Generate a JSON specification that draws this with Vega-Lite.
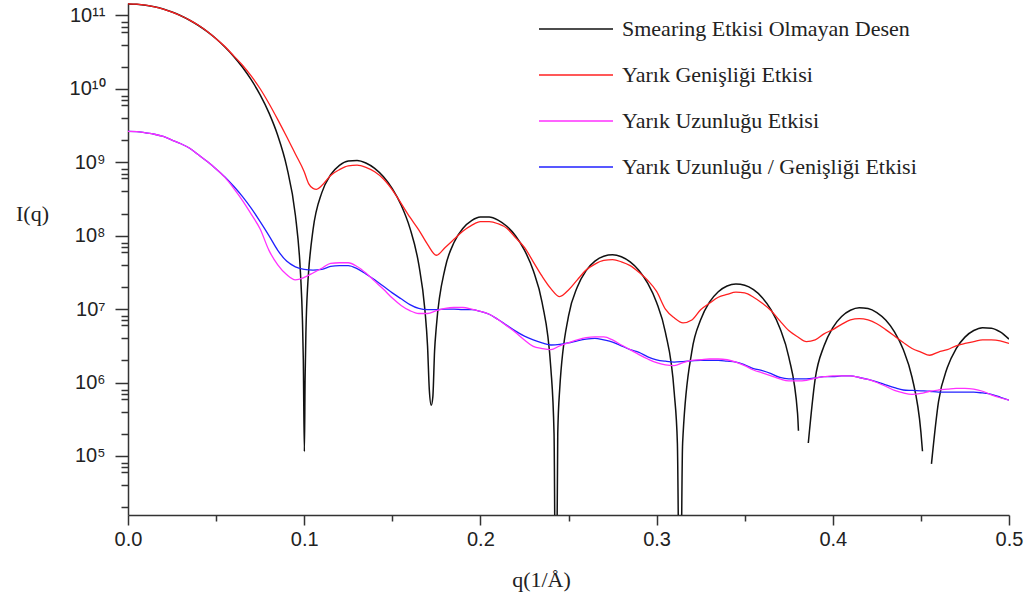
{
  "$schema": "https://vega.github.io/schema/vega-lite/v6.json",
  "autosize": "none",
  "width": 881,
  "height": 512,
  "padding": {"left": 128, "top": 3, "right": 21, "bottom": 85},
  "background": "white",
  "config": {
    "view": {"stroke": null},
    "axis": {
      "domainColor": "#333",
      "domainWidth": 1.5,
      "tickColor": "#333",
      "tickWidth": 1.5,
      "grid": false,
      "labelFont": "Liberation Sans",
      "labelFontSize": 20,
      "labelColor": "#222",
      "titleFont": "Liberation Serif",
      "titleFontSize": 22,
      "titleFontWeight": "normal",
      "titleColor": "#222"
    }
  },
  "datasets": {
    "black": [
      {"q":0,"I":1.43e11},{"q":0.005,"I":1.416e11},{"q":0.01,"I":1.373e11},{"q":0.015,"I":1.305e11},{"q":0.02,"I":1.215e11},
      {"q":0.025,"I":1.106e11},{"q":0.03,"I":9.85e10},{"q":0.035,"I":8.56e10},{"q":0.04,"I":7.26e10},{"q":0.045,"I":5.99e10},
      {"q":0.05,"I":4.79e10},{"q":0.055,"I":3.70e10},{"q":0.06,"I":2.757e10},{"q":0.065,"I":1.96e10},{"q":0.07,"I":1.317e10},
      {"q":0.075,"I":8.25e9},{"q":0.08,"I":4.69e9},{"q":0.085,"I":2.309e9},{"q":0.09,"I":8.85e8},{"q":0.095,"I":1.894e8},
      {"q":0.0975,"I":4.46e7},{"q":0.098,"I":2.76e7},{"q":0.099,"I":7.07e6},{"q":0.0995,"I":2.03e6},{"q":0.1001,"I":1.15e5},
      {"q":0.1005,"I":1.07e6},{"q":0.101,"I":5.13e6},{"q":0.102,"I":2.13e7},{"q":0.1025,"I":3.23e7},{"q":0.105,"I":1.195e8},
      {"q":0.11,"I":3.85e8},{"q":0.115,"I":6.74e8},{"q":0.12,"I":9.06e8},{"q":0.125,"I":1.037e9},{"q":0.13,"I":1.056e9},
      {"q":0.135,"I":9.76e8},{"q":0.14,"I":8.24e8},{"q":0.145,"I":6.33e8},{"q":0.15,"I":4.36e8},{"q":0.155,"I":2.61e8},
      {"q":0.16,"I":1.266e8},{"q":0.165,"I":4.08e7},{"q":0.1685,"I":9.76e6},{"q":0.17,"I":3.15e6},{"q":0.171,"I":8.05e5},
      {"q":0.1721,"I":4.9e5},{"q":0.173,"I":6.34e5},{"q":0.174,"I":2.7e6},{"q":0.175,"I":5.78e6},{"q":0.18,"I":3.62e7},
      {"q":0.185,"I":8.05e7},{"q":0.19,"I":1.252e8},{"q":0.195,"I":1.601e8},{"q":0.2,"I":1.788e8},{"q":0.205,"I":1.792e8},
      {"q":0.21,"I":1.627e8},{"q":0.215,"I":1.339e8},{"q":0.22,"I":9.88e7},{"q":0.225,"I":6.35e7},{"q":0.23,"I":3.35e7},
      {"q":0.235,"I":1.229e7},{"q":0.24,"I":1.542e6},{"q":0.2418,"I":2.0e5},{"q":0.24285,"I":100},{"q":0.2439,"I":2.0e5},
      {"q":0.245,"I":8.07e5},{"q":0.25,"I":8.0e6},{"q":0.255,"I":2.0e7},{"q":0.26,"I":3.34e7},{"q":0.265,"I":4.5e7},
      {"q":0.27,"I":5.25e7},{"q":0.275,"I":5.47e7},{"q":0.28,"I":5.15e7},{"q":0.285,"I":4.38e7},{"q":0.29,"I":3.35e7},
      {"q":0.295,"I":2.23e7},{"q":0.3,"I":1.227e7},{"q":0.305,"I":4.81e6},{"q":0.31,"I":7.3e5},{"q":0.3118,"I":1.48e5},
      {"q":0.31328,"I":100},{"q":0.3147,"I":1.33e5},{"q":0.315,"I":1.91e5},{"q":0.32,"I":2.66e6},{"q":0.325,"I":7.13e6},
      {"q":0.33,"I":1.239e7},{"q":0.335,"I":1.72e7},{"q":0.34,"I":2.06e7},{"q":0.345,"I":2.19e7},{"q":0.35,"I":2.11e7},
      {"q":0.355,"I":1.833e7},{"q":0.36,"I":1.429e7},{"q":0.365,"I":9.74e6},{"q":0.37,"I":5.49e6},{"q":0.375,"I":2.23e6},
      {"q":0.38,"I":3.78e5},{"q":0.3805,"I":2.2e5},{"q":0.3835,"I":null},{"q":0.3861,"I":1.5e5},{"q":0.39,"I":1.117e6},
      {"q":0.395,"I":3.14e6},{"q":0.4,"I":5.60e6},{"q":0.405,"I":7.93e6},{"q":0.41,"I":9.64e6},{"q":0.415,"I":1.043e7},
      {"q":0.42,"I":1.017e7},{"q":0.425,"I":8.96e6},{"q":0.43,"I":7.08e6},{"q":0.435,"I":4.90e6},{"q":0.44,"I":2.81e6},
      {"q":0.445,"I":1.17e6},{"q":0.45,"I":2.11e5},{"q":0.4509,"I":1.16e5},{"q":0.4535,"I":null},{"q":0.456,"I":7.8e4},
      {"q":0.46,"I":5.49e5},{"q":0.465,"I":1.595e6},{"q":0.47,"I":2.89e6},{"q":0.475,"I":4.15e6},{"q":0.48,"I":5.10e6},
      {"q":0.485,"I":5.57e6},{"q":0.49,"I":5.49e6},{"q":0.495,"I":4.88e6},{"q":0.5,"I":3.90e6}
    ],
    "red": [
      {"q":0,"I":1.43e11},{"q":0.005,"I":1.416e11},{"q":0.01,"I":1.373e11},{"q":0.015,"I":1.305e11},{"q":0.02,"I":1.215e11},
      {"q":0.025,"I":1.106e11},{"q":0.03,"I":9.85e10},{"q":0.035,"I":8.6e10},{"q":0.04,"I":7.3e10},{"q":0.045,"I":6.0e10},
      {"q":0.05,"I":4.8e10},{"q":0.055,"I":3.75e10},{"q":0.06,"I":2.8e10},{"q":0.065,"I":2.09e10},{"q":0.07,"I":1.48e10},
      {"q":0.075,"I":1.0e10},{"q":0.08,"I":6.3e9},{"q":0.085,"I":3.8e9},{"q":0.09,"I":2.24e9},{"q":0.095,"I":1.29e9},
      {"q":0.1,"I":7.4e8},{"q":0.1025,"I":5.1e8},{"q":0.105,"I":4.4e8},{"q":0.107,"I":4.27e8},{"q":0.11,"I":4.8e8},
      {"q":0.115,"I":6.6e8},{"q":0.12,"I":7.9e8},{"q":0.125,"I":8.9e8},{"q":0.13,"I":9.1e8},{"q":0.135,"I":8.5e8},
      {"q":0.14,"I":7.4e8},{"q":0.145,"I":5.9e8},{"q":0.15,"I":4.2e8},{"q":0.155,"I":2.75e8},{"q":0.16,"I":1.78e8},
      {"q":0.165,"I":1.2e8},{"q":0.17,"I":7.6e7},{"q":0.175,"I":5.4e7},{"q":0.18,"I":6.9e7},{"q":0.185,"I":8.9e7},
      {"q":0.19,"I":1.15e8},{"q":0.195,"I":1.38e8},{"q":0.2,"I":1.55e8},{"q":0.205,"I":1.55e8},{"q":0.21,"I":1.45e8},
      {"q":0.215,"I":1.26e8},{"q":0.22,"I":9.3e7},{"q":0.225,"I":6.9e7},{"q":0.23,"I":4.4e7},{"q":0.235,"I":2.8e7},
      {"q":0.24,"I":1.9e7},{"q":0.245,"I":1.48e7},{"q":0.25,"I":1.82e7},{"q":0.255,"I":2.5e7},{"q":0.26,"I":3.4e7},
      {"q":0.265,"I":4.1e7},{"q":0.27,"I":4.6e7},{"q":0.275,"I":4.7e7},{"q":0.28,"I":4.4e7},{"q":0.285,"I":3.9e7},
      {"q":0.29,"I":3.16e7},{"q":0.295,"I":2.45e7},{"q":0.3,"I":1.74e7},{"q":0.305,"I":1.0e7},{"q":0.31,"I":7.6e6},
      {"q":0.315,"I":6.5e6},{"q":0.32,"I":7.1e6},{"q":0.325,"I":9.8e6},{"q":0.33,"I":1.2e7},{"q":0.335,"I":1.45e7},
      {"q":0.34,"I":1.58e7},{"q":0.345,"I":1.7e7},{"q":0.35,"I":1.66e7},{"q":0.355,"I":1.45e7},{"q":0.36,"I":1.2e7},
      {"q":0.365,"I":9.5e6},{"q":0.37,"I":6.9e6},{"q":0.375,"I":5.1e6},{"q":0.38,"I":4.2e6},{"q":0.385,"I":3.6e6},
      {"q":0.39,"I":3.8e6},{"q":0.395,"I":4.6e6},{"q":0.4,"I":5.25e6},{"q":0.405,"I":6.2e6},{"q":0.41,"I":7.1e6},
      {"q":0.415,"I":7.4e6},{"q":0.42,"I":7.1e6},{"q":0.425,"I":6.3e6},{"q":0.43,"I":5.25e6},{"q":0.435,"I":4.3e6},
      {"q":0.44,"I":3.5e6},{"q":0.445,"I":2.9e6},{"q":0.45,"I":2.6e6},{"q":0.455,"I":2.35e6},{"q":0.46,"I":2.6e6},
      {"q":0.465,"I":2.8e6},{"q":0.47,"I":3.16e6},{"q":0.475,"I":3.4e6},{"q":0.48,"I":3.6e6},{"q":0.485,"I":3.8e6},
      {"q":0.49,"I":3.8e6},{"q":0.495,"I":3.7e6},{"q":0.5,"I":3.4e6}
    ],
    "magenta": [
      {"q":0,"I":2.63e9},{"q":0.005,"I":2.61e9},{"q":0.01,"I":2.51e9},{"q":0.015,"I":2.4e9},{"q":0.02,"I":2.24e9},
      {"q":0.025,"I":2.0e9},{"q":0.03,"I":1.78e9},{"q":0.035,"I":1.55e9},{"q":0.04,"I":1.26e9},{"q":0.045,"I":1.02e9},
      {"q":0.05,"I":8.1e8},{"q":0.055,"I":6.2e8},{"q":0.06,"I":4.4e8},{"q":0.065,"I":3.0e8},{"q":0.07,"I":1.95e8},
      {"q":0.075,"I":1.23e8},{"q":0.08,"I":6.3e7},{"q":0.085,"I":4.0e7},{"q":0.09,"I":2.95e7},{"q":0.095,"I":2.5e7},
      {"q":0.1,"I":2.7e7},{"q":0.105,"I":3.1e7},{"q":0.11,"I":3.6e7},{"q":0.115,"I":4.2e7},{"q":0.12,"I":4.27e7},
      {"q":0.125,"I":4.27e7},{"q":0.13,"I":3.8e7},{"q":0.135,"I":3.1e7},{"q":0.14,"I":2.4e7},{"q":0.145,"I":1.86e7},
      {"q":0.15,"I":1.41e7},{"q":0.155,"I":1.12e7},{"q":0.16,"I":9.5e6},{"q":0.165,"I":8.7e6},{"q":0.17,"I":8.7e6},
      {"q":0.175,"I":9.5e6},{"q":0.18,"I":1.02e7},{"q":0.185,"I":1.05e7},{"q":0.19,"I":1.05e7},{"q":0.195,"I":1.0e7},
      {"q":0.2,"I":9.3e6},{"q":0.205,"I":8.5e6},{"q":0.21,"I":7.2e6},{"q":0.215,"I":5.9e6},{"q":0.22,"I":4.8e6},
      {"q":0.225,"I":3.8e6},{"q":0.23,"I":3.1e6},{"q":0.235,"I":2.9e6},{"q":0.24,"I":2.8e6},{"q":0.245,"I":3.16e6},
      {"q":0.25,"I":3.47e6},{"q":0.255,"I":3.8e6},{"q":0.26,"I":4.07e6},{"q":0.265,"I":4.17e6},{"q":0.27,"I":4.17e6},
      {"q":0.275,"I":3.8e6},{"q":0.28,"I":3.24e6},{"q":0.285,"I":2.8e6},{"q":0.29,"I":2.4e6},{"q":0.295,"I":2.09e6},
      {"q":0.3,"I":1.86e6},{"q":0.305,"I":1.74e6},{"q":0.31,"I":1.7e6},{"q":0.315,"I":1.86e6},{"q":0.32,"I":2.0e6},
      {"q":0.325,"I":2.04e6},{"q":0.33,"I":2.09e6},{"q":0.335,"I":2.09e6},{"q":0.34,"I":2.04e6},{"q":0.345,"I":1.9e6},
      {"q":0.35,"I":1.7e6},{"q":0.355,"I":1.48e6},{"q":0.36,"I":1.35e6},{"q":0.365,"I":1.23e6},{"q":0.37,"I":1.12e6},
      {"q":0.375,"I":1.05e6},{"q":0.38,"I":1.05e6},{"q":0.385,"I":1.07e6},{"q":0.39,"I":1.15e6},{"q":0.395,"I":1.2e6},
      {"q":0.4,"I":1.23e6},{"q":0.405,"I":1.23e6},{"q":0.41,"I":1.23e6},{"q":0.415,"I":1.17e6},{"q":0.42,"I":1.1e6},
      {"q":0.425,"I":1.0e6},{"q":0.43,"I":8.9e5},{"q":0.435,"I":7.8e5},{"q":0.44,"I":7.2e5},{"q":0.445,"I":6.9e5},
      {"q":0.45,"I":7.1e5},{"q":0.455,"I":7.6e5},{"q":0.46,"I":7.9e5},{"q":0.465,"I":8.1e5},{"q":0.47,"I":8.3e5},
      {"q":0.475,"I":8.3e5},{"q":0.48,"I":8.1e5},{"q":0.485,"I":7.6e5},{"q":0.49,"I":6.8e5},{"q":0.495,"I":6.2e5},
      {"q":0.5,"I":5.75e5}
    ],
    "blue": [
      {"q":0,"I":2.63e9},{"q":0.005,"I":2.61e9},{"q":0.01,"I":2.51e9},{"q":0.015,"I":2.4e9},{"q":0.02,"I":2.24e9},
      {"q":0.025,"I":2.0e9},{"q":0.03,"I":1.78e9},{"q":0.035,"I":1.55e9},{"q":0.04,"I":1.26e9},{"q":0.045,"I":1.02e9},
      {"q":0.05,"I":8.1e8},{"q":0.055,"I":6.3e8},{"q":0.06,"I":4.7e8},{"q":0.065,"I":3.4e8},{"q":0.07,"I":2.35e8},
      {"q":0.075,"I":1.55e8},{"q":0.08,"I":1.0e8},{"q":0.085,"I":6.3e7},{"q":0.09,"I":4.5e7},{"q":0.095,"I":3.76e7},
      {"q":0.1,"I":3.47e7},{"q":0.105,"I":3.4e7},{"q":0.11,"I":3.47e7},{"q":0.115,"I":3.8e7},{"q":0.12,"I":3.9e7},
      {"q":0.125,"I":3.9e7},{"q":0.13,"I":3.55e7},{"q":0.135,"I":3.0e7},{"q":0.14,"I":2.5e7},{"q":0.145,"I":2.04e7},
      {"q":0.15,"I":1.66e7},{"q":0.155,"I":1.38e7},{"q":0.16,"I":1.15e7},{"q":0.165,"I":1.02e7},{"q":0.17,"I":9.8e6},
      {"q":0.175,"I":9.8e6},{"q":0.18,"I":1.0e7},{"q":0.185,"I":1.0e7},{"q":0.19,"I":9.8e6},{"q":0.195,"I":9.8e6},
      {"q":0.2,"I":9.3e6},{"q":0.205,"I":8.5e6},{"q":0.21,"I":7.2e6},{"q":0.215,"I":6.0e6},{"q":0.22,"I":5.0e6},
      {"q":0.225,"I":4.27e6},{"q":0.23,"I":3.8e6},{"q":0.235,"I":3.47e6},{"q":0.24,"I":3.24e6},{"q":0.245,"I":3.3e6},
      {"q":0.25,"I":3.47e6},{"q":0.255,"I":3.7e6},{"q":0.26,"I":3.9e6},{"q":0.265,"I":4.0e6},{"q":0.27,"I":3.8e6},
      {"q":0.275,"I":3.55e6},{"q":0.28,"I":3.16e6},{"q":0.285,"I":2.8e6},{"q":0.29,"I":2.57e6},{"q":0.295,"I":2.24e6},
      {"q":0.3,"I":2.04e6},{"q":0.305,"I":1.95e6},{"q":0.31,"I":1.9e6},{"q":0.315,"I":1.93e6},{"q":0.32,"I":1.97e6},
      {"q":0.325,"I":2.0e6},{"q":0.33,"I":2.0e6},{"q":0.335,"I":2.0e6},{"q":0.34,"I":1.95e6},{"q":0.345,"I":1.9e6},
      {"q":0.35,"I":1.74e6},{"q":0.355,"I":1.55e6},{"q":0.36,"I":1.45e6},{"q":0.365,"I":1.32e6},{"q":0.37,"I":1.17e6},
      {"q":0.375,"I":1.12e6},{"q":0.38,"I":1.12e6},{"q":0.385,"I":1.12e6},{"q":0.39,"I":1.15e6},{"q":0.395,"I":1.2e6},
      {"q":0.4,"I":1.2e6},{"q":0.405,"I":1.23e6},{"q":0.41,"I":1.23e6},{"q":0.415,"I":1.17e6},{"q":0.42,"I":1.1e6},
      {"q":0.425,"I":1.02e6},{"q":0.43,"I":9.3e5},{"q":0.435,"I":8.5e5},{"q":0.44,"I":7.9e5},{"q":0.445,"I":7.8e5},
      {"q":0.45,"I":7.7e5},{"q":0.455,"I":7.6e5},{"q":0.46,"I":7.4e5},{"q":0.465,"I":7.4e5},{"q":0.47,"I":7.4e5},
      {"q":0.475,"I":7.4e5},{"q":0.48,"I":7.4e5},{"q":0.485,"I":7.2e5},{"q":0.49,"I":6.9e5},{"q":0.495,"I":6.3e5},
      {"q":0.5,"I":5.75e5}
    ]
  },
  "resolve": {"axis": {"x": "independent", "y": "independent"}},
  "layer": [
    {
      "data": {"name": "black"},
      "mark": {"type": "line", "strokeWidth": 1.5, "interpolate": "monotone", "clip": true, "invalid": "break-paths-filter-domains"},
      "encoding": {
        "x": {
          "field": "q", "type": "quantitative",
          "scale": {"domain": [0, 0.5], "nice": false, "zero": false},
          "axis": {"orient": "bottom", "values": [0, 0.1, 0.2, 0.3, 0.4, 0.5], "format": ".1f", "tickSize": 10, "labelPadding": 4,
                   "title": "q(1/Å)", "titleX": 413, "titleY": 64, "titleBaseline": "middle", "titleAnchor": null, "labelFlush": false}
        },
        "y": {
          "field": "I", "type": "quantitative",
          "scale": {"type": "log", "domain": [15700, 1.47e11], "nice": false},
          "axis": {"orient": "left", "values": [1e5, 1e6, 1e7, 1e8, 1e9, 1e10, 1e11], "tickSize": 13, "labelPadding": 10,
                   "labelBaseline": "middle", "labelFlush": false,
                   "labelExpr": "'10' + (datum.value > 5e10 ? '¹¹' : datum.value > 5e9 ? '¹⁰' : datum.value > 5e8 ? '⁹' : datum.value > 5e7 ? '⁸' : datum.value > 5e6 ? '⁷' : datum.value > 5e5 ? '⁶' : '⁵')",
                   "title": "I(q)", "titleAngle": 0, "titleX": -96, "titleY": 210, "titleAlign": "center", "titleBaseline": "middle", "titleAnchor": null}
        },
        "color": {
          "datum": "Smearing Etkisi Olmayan Desen",
          "type": "nominal",
          "scale": {
            "domain": ["Smearing Etkisi Olmayan Desen", "Yarık Genişliği Etkisi", "Yarık Uzunluğu Etkisi", "Yarık Uzunluğu / Genişliği Etkisi"],
            "range": ["#111111", "#ff2020", "#ff30ff", "#2020ff"]
          },
          "legend": {
            "title": null, "orient": "none", "legendX": 410, "legendY": 3, "direction": "vertical",
            "symbolType": "stroke", "symbolSize": 5476, "symbolStrokeWidth": 1.5,
            "labelFont": "Liberation Serif", "labelFontSize": 22, "labelColor": "#222", "labelOffset": 8, "labelLimit": 500,
            "clipHeight": 46, "rowPadding": 0
          }
        }
      }
    },
    {
      "data": {"name": "red"},
      "mark": {"type": "line", "strokeWidth": 1.3, "interpolate": "monotone", "clip": true},
      "encoding": {
        "x": {"field": "q", "type": "quantitative",
              "axis": {"orient": "bottom", "values": [0.05, 0.15, 0.25, 0.35, 0.45], "tickSize": 6, "labels": false, "domain": false, "title": null}},
        "y": {"field": "I", "type": "quantitative",
              "axis": {"orient": "left", "tickSize": 7, "labels": false, "domain": false, "title": null,
                       "values": [2e4, 4e4, 6e4, 7e4, 8e4, 2e5, 4e5, 6e5, 7e5, 8e5, 2e6, 4e6, 6e6, 7e6, 8e6, 2e7, 4e7, 6e7, 7e7, 8e7, 2e8, 4e8, 6e8, 7e8, 8e8, 2e9, 4e9, 6e9, 7e9, 8e9, 2e10, 4e10, 6e10, 7e10, 8e10]}},
        "color": {"datum": "Yarık Genişliği Etkisi", "type": "nominal"}
      }
    },
    {
      "data": {"name": "blue"},
      "mark": {"type": "line", "strokeWidth": 1.3, "interpolate": "monotone", "clip": true},
      "encoding": {
        "x": {"field": "q", "type": "quantitative", "axis": null},
        "y": {"field": "I", "type": "quantitative", "axis": null},
        "color": {"datum": "Yarık Uzunluğu / Genişliği Etkisi", "type": "nominal"}
      }
    },
    {
      "data": {"name": "magenta"},
      "mark": {"type": "line", "strokeWidth": 1.3, "interpolate": "monotone", "clip": true},
      "encoding": {
        "x": {"field": "q", "type": "quantitative", "axis": null},
        "y": {"field": "I", "type": "quantitative", "axis": null},
        "color": {"datum": "Yarık Uzunluğu Etkisi", "type": "nominal"}
      }
    }
  ]
}
